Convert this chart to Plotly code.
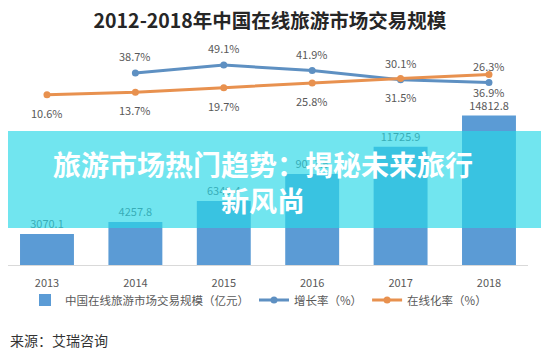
import plotly.graph_objects as go

years = [2013, 2014, 2015, 2016, 2017, 2018]
scale = [3070.1, 4257.8, 6349.4, 9011.6, 11725.9, 14812.8]
growth = [None, 38.7, 49.1, 41.9, 30.1, 26.3]
online = [10.6, 13.7, 19.7, 25.8, 31.5, 36.9]

BAR = "#5B9BD5"
BLUE = "#5E90C2"
ORANGE = "#E8914F"
GRAY = "#595959"
FONT = "Noto Sans CJK SC"

# page offset (html body margin) compensation: page = fig + 8
PW = 520.0   # plot width in px
PH = 225.0   # plot height in px


def px(page_x):
    return (page_x - 8) / PW


def py(page_y):
    return (265 - page_y) / PH


fig = go.Figure()
fig.add_trace(go.Bar(
    x=years, y=scale, name="中国在线旅游市场交易规模（亿元）",
    marker=dict(color=BAR, line=dict(width=0)), width=0.61,
    text=[f"{v:.1f}" for v in scale], textposition="outside",
    textfont=dict(size=11, color=GRAY), cliponaxis=False,
))
fig.add_trace(go.Scatter(
    x=years, y=growth, name="增长率（%）", yaxis="y2", mode="lines+markers",
    line=dict(color=BLUE, width=3), marker=dict(size=7, color=BLUE),
    connectgaps=False,
))
fig.add_trace(go.Scatter(
    x=years, y=online, name="在线化率（%）", yaxis="y2", mode="lines+markers",
    line=dict(color=ORANGE, width=3), marker=dict(size=7, color=ORANGE),
))

annotations = []
for xv, v in zip(years, growth):
    if v is None:
        continue
    annotations.append(dict(x=xv, y=v, yref="y2", xref="x", text=f"{v}%",
                            showarrow=False, yshift=17,
                            font=dict(size=11, color=GRAY, family=FONT)))
for xv, v in zip(years, online):
    annotations.append(dict(x=xv, y=v, yref="y2", xref="x", text=f"{v}%",
                            showarrow=False, yshift=-18,
                            font=dict(size=11, color=GRAY, family=FONT)))

# banner text
annotations.append(dict(
    xref="paper", yref="paper", x=px(263), y=py(181.5),
    text="<b>旅游市场热门趋势：揭秘未来旅行</b><br><b>新风尚</b>",
    showarrow=False, align="center", xanchor="center", yanchor="middle",
    font=dict(size=28, color="white", family=FONT),
))
# source
annotations.append(dict(
    xref="paper", yref="paper", x=px(8), y=py(340),
    text="来源：艾瑞咨询", showarrow=False, xanchor="left", yanchor="middle",
    font=dict(size=14, color="#333333", family=FONT),
))

r0 = 2012.559
r1 = r0 + PW / 88.4

fig.update_layout(
    width=549, height=360,
    margin=dict(l=0, r=549 - PW, t=32, b=360 - 32 - PH, autoexpand=False),
    paper_bgcolor="white", plot_bgcolor="white",
    font=dict(family=FONT, color=GRAY),
    title=dict(text="<b>2012-2018年中国在线旅游市场交易规模</b>",
               x=262 / 549, xanchor="center", y=1 - 13 / 360, yanchor="middle",
               font=dict(size=19.5, color="#262626", family=FONT)),
    showlegend=True,
    legend=dict(orientation="h", x=17 / PW, y=py(300),
                xanchor="left", yanchor="middle",
                font=dict(size=11.5, color=GRAY), bgcolor="rgba(0,0,0,0)",
                itemwidth=30, tracegroupgap=0),
    xaxis=dict(range=[r0, r1], tickmode="array", tickvals=years,
               ticktext=[str(y) for y in years],
               showgrid=False, showline=True, zeroline=False,
               linecolor="#D9D9D9", linewidth=1, ticks="",
               ticklabelstandoff=8,
               tickfont=dict(size=11, color=GRAY)),
    yaxis=dict(range=[0, 22300], visible=False, showgrid=False),
    yaxis2=dict(range=[-210.6, 81.6], overlaying="y", visible=False,
                showgrid=False),
    annotations=annotations,
    shapes=[dict(type="rect", xref="paper", yref="paper",
                 x0=px(0) - 0.02, x1=px(560),
                 y0=py(228), y1=py(131),
                 fillcolor="rgba(40,215,230,0.66)", line=dict(width=0),
                 layer="above")],
)

fig.write_html("out.html")
